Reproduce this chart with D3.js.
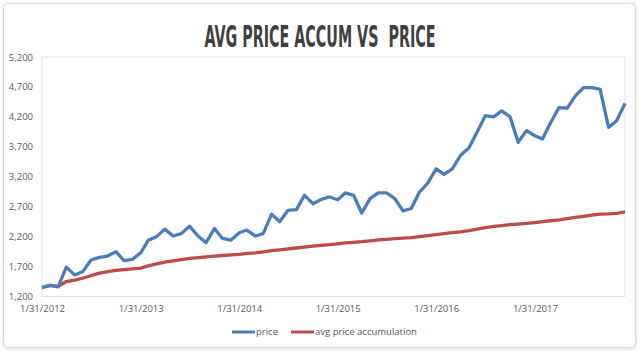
<!DOCTYPE html>
<html>
<head>
<meta charset="utf-8">
<script src="https://cdn.jsdelivr.net/npm/d3@7"></script>
<style>
  body { margin: 0; background: #fff; }
  text { font-family: "Open Sans", sans-serif; }
</style>
</head>
<body>
<svg width="640" height="352"></svg>
<script>
const title = "AVG PRICE ACCUM VS  PRICE";
const startMonth = "2012-01";
const tickLabels = ["1/31/2012", "1/31/2013", "1/31/2014", "1/31/2015", "1/31/2016", "1/31/2017"];
const yTicks = [1200, 1700, 2200, 2700, 3200, 3700, 4200, 4700, 5200];

// monthly closes, jan 2012 .. dec 2017
const price = [
  1350, 1385, 1360, 1690, 1560, 1615, 1810, 1853, 1876, 1950, 1800, 1820,
  1930, 2140, 2200, 2325, 2210, 2250, 2375, 2210, 2100, 2335, 2170, 2140,
  2265, 2310, 2210, 2250, 2575, 2450, 2640, 2650, 2890, 2750, 2820, 2865,
  2815, 2930, 2890, 2595, 2835, 2930, 2930, 2835, 2630, 2670, 2945, 3095,
  3330, 3240, 3330, 3555, 3680, 3940, 4220, 4200, 4300, 4200, 3775, 3970,
  3885, 3830, 4110, 4355, 4345, 4550, 4690, 4690, 4660, 4025, 4135, 4425
];
const avgAccum = [
  1350, 1385, 1370, 1450, 1475, 1505, 1550, 1590, 1615, 1635, 1650, 1660,
  1675, 1710, 1745, 1775, 1795, 1815, 1835, 1850, 1860, 1875, 1885, 1895,
  1905, 1920, 1930, 1945, 1965, 1980, 1995, 2010, 2025, 2040, 2055, 2065,
  2080, 2095, 2105, 2115, 2130, 2145, 2155, 2165, 2175, 2185, 2200, 2215,
  2235, 2250, 2265, 2280, 2300, 2325, 2350, 2370, 2385, 2400, 2410, 2420,
  2435, 2450, 2465, 2480, 2500, 2520, 2540, 2560, 2575, 2580, 2590, 2615
];

const svg = d3.select("svg");
const parseMonth = d3.timeParse("%Y-%m");
const parseTick = d3.timeParse("%m/%d/%Y");
const t0 = parseMonth(startMonth);
// last day of each month
const dates = price.map((_, i) => d3.timeDay.offset(d3.timeMonth.offset(t0, i + 1), -1));

const plot = { left: 42, right: 625, top: 57, bottom: 296.5 };

const x = d3.scaleTime().domain(d3.extent(dates)).range([plot.left, plot.right]);
const y = d3.scaleLinear().domain([1200, 5200]).range([plot.bottom, plot.top]);

// outer frame
const defs = svg.append("defs");
const f = defs.append("filter").attr("id", "sh").attr("x", "-5%").attr("y", "-5%").attr("width", "110%").attr("height", "110%");
f.append("feDropShadow").attr("dx", 0).attr("dy", 1).attr("stdDeviation", 1.5).attr("flood-color", "#000").attr("flood-opacity", 0.15);

svg.append("rect")
    .attr("x", 3.5).attr("y", 3.5).attr("width", 632).attr("height", 344)
    .attr("rx", 4).attr("fill", "#fff").attr("stroke", "#d9d9d9")
    .attr("filter", "url(#sh)");

// plot area box
svg.append("rect")
    .attr("x", plot.left).attr("y", plot.top)
    .attr("width", plot.right - plot.left).attr("height", plot.bottom - plot.top)
    .attr("fill", "none").attr("stroke", "#e3e3e3");

// title, squeezed horizontally to match the narrow display face
const tg = svg.append("g");
const tt = tg.append("text")
    .attr("text-anchor", "middle")
    .style("white-space", "pre")
    .style("font-family", "'Liberation Sans Narrow', 'DejaVu Sans Condensed', sans-serif")
    .style("font-weight", "bold").style("font-size", "31px")
    .attr("fill", "#404040")
    .text(title);
const tw = tt.node().getComputedTextLength();
tg.attr("transform", `translate(320,47) scale(${231 / tw},1)`);

// y axis
const yAxis = svg.append("g")
    .attr("transform", `translate(${plot.left},0)`)
    .call(d3.axisLeft(y).tickValues(yTicks).tickSize(0).tickPadding(9).tickFormat(d3.format(",")));
yAxis.select(".domain").remove();
yAxis.selectAll("text").attr("fill", "#595959").style("font-size", "9.5px");

// x axis
const xAxis = svg.append("g")
    .attr("transform", `translate(0,${plot.bottom})`)
    .call(d3.axisBottom(x).tickValues(tickLabels.map(parseTick)).tickSize(0).tickPadding(9)
        .tickFormat(d => tickLabels.find(s => +parseTick(s) === +d)));
xAxis.select(".domain").remove();
xAxis.selectAll("text").attr("fill", "#595959").style("font-size", "9.5px");

const line = d3.line().x((d, i) => x(dates[i])).y(d => y(d));

const series = [
  { name: "price", values: price, color: "#4a7ebb" },
  { name: "avg price accumulation", values: avgAccum, color: "#be4b48" }
];

svg.selectAll("path.series")
    .data(series.slice().reverse())
    .enter().append("path")
    .attr("class", "series")
    .attr("d", s => line(s.values))
    .attr("fill", "none")
    .attr("stroke", s => s.color)
    .attr("stroke-width", 3.3)
    .attr("stroke-linejoin", "round");

// legend
const legendX = [232, 291];
const lg = svg.selectAll("g.leg").data(series).enter().append("g")
    .attr("class", "leg")
    .attr("transform", (d, i) => `translate(${legendX[i]},332)`);
lg.append("line").attr("x1", 0).attr("x2", 23).attr("stroke", d => d.color).attr("stroke-width", 3);
lg.append("text").attr("x", 24).attr("dy", "0.35em")
    .attr("fill", "#595959").style("font-size", "9.5px")
    .text(d => d.name);
</script>
</body>
</html>
